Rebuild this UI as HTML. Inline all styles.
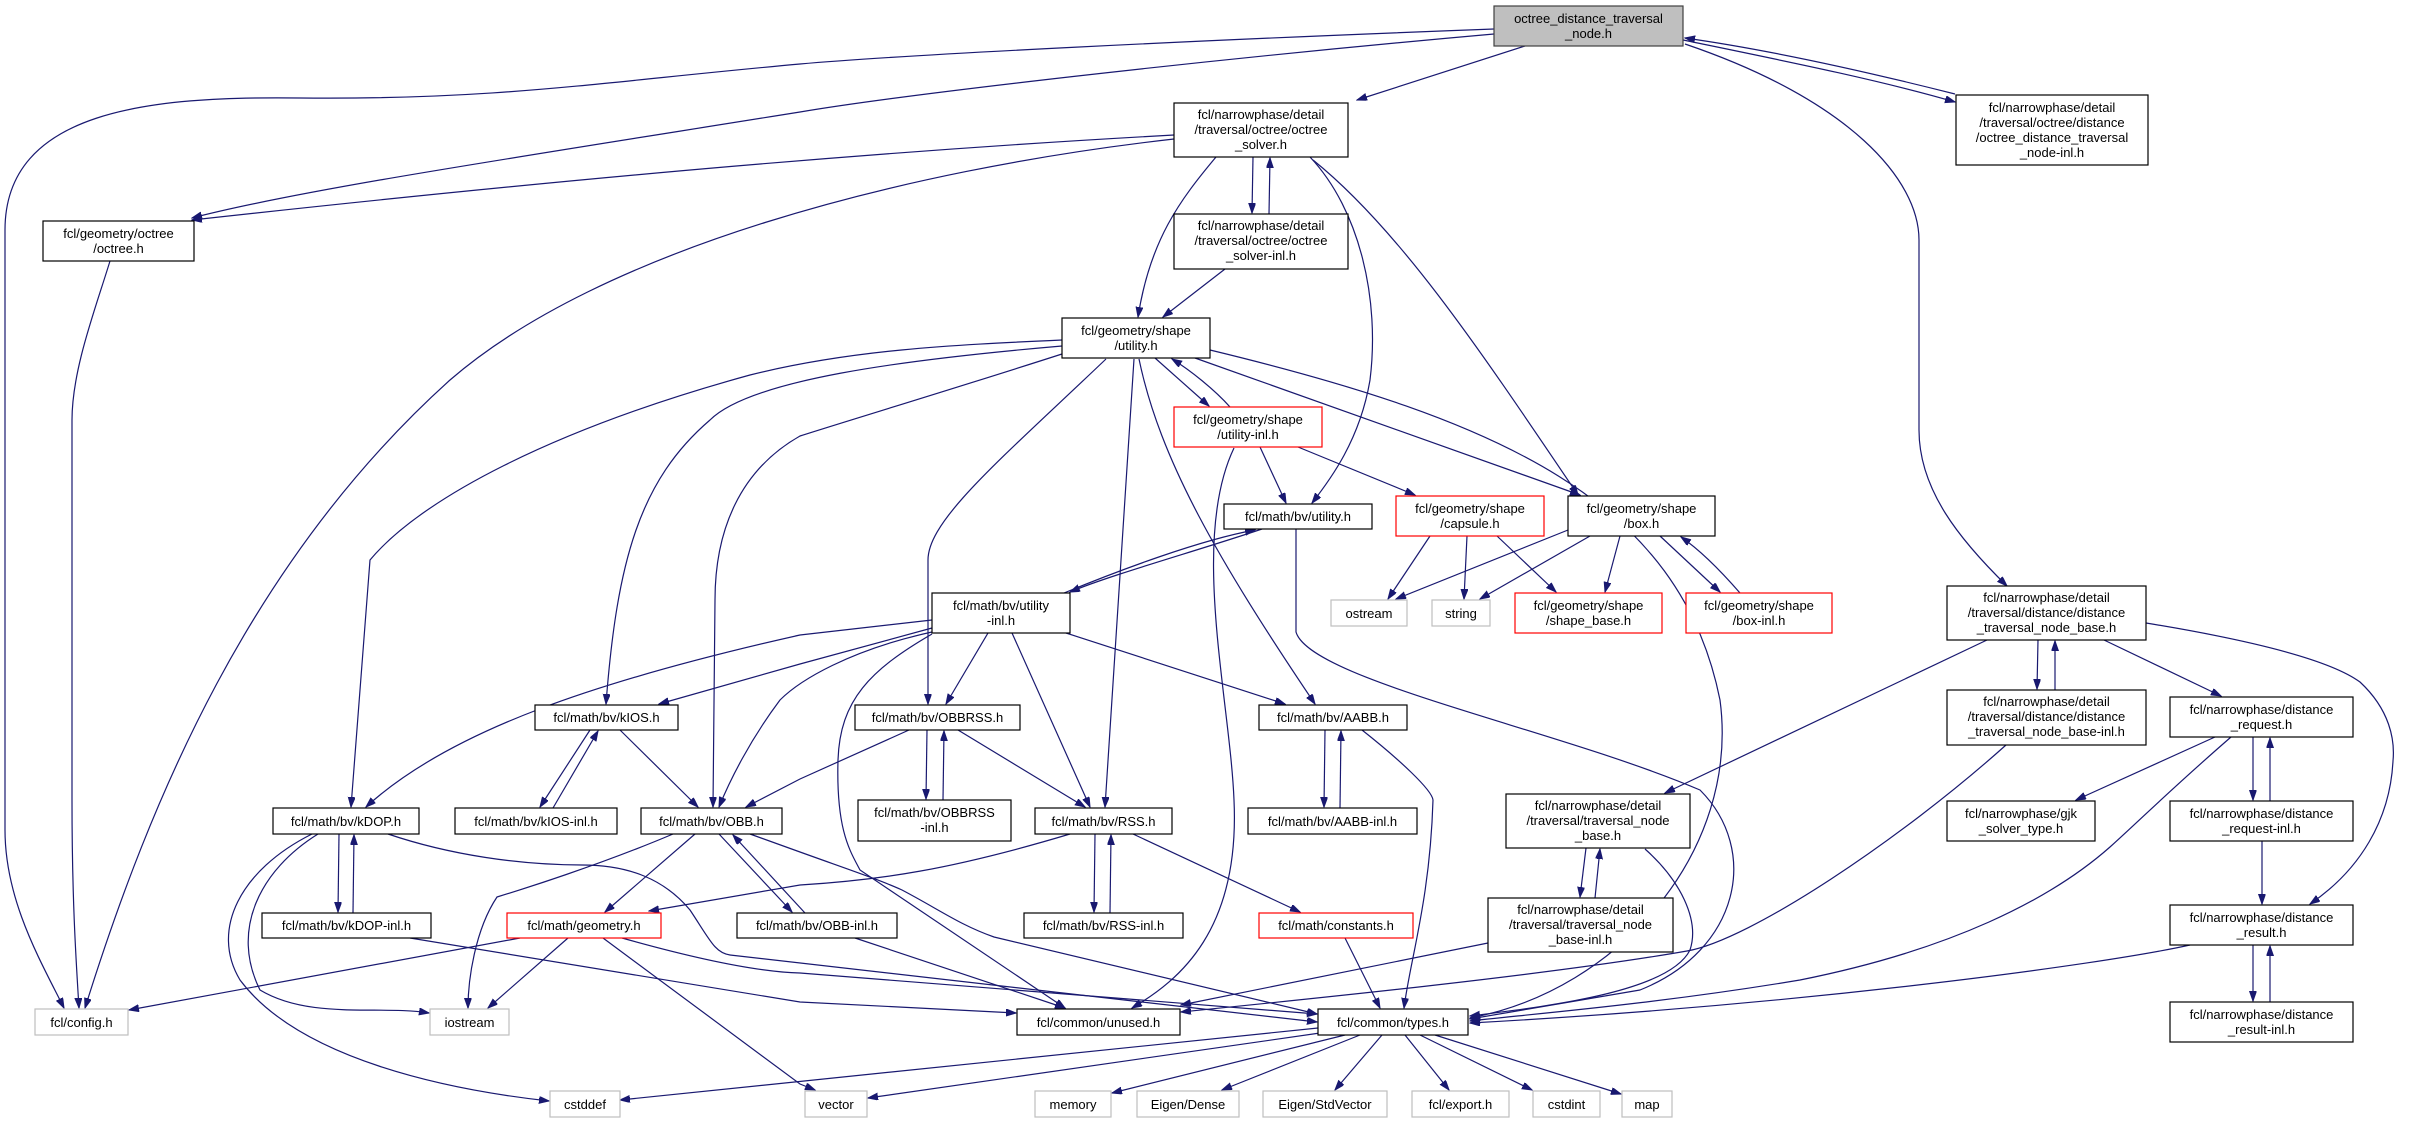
<!DOCTYPE html>
<html><head><meta charset="utf-8"><style>
html,body{margin:0;padding:0;background:#fff;}
svg{display:block;}
text{font-family:"Liberation Sans",sans-serif;font-size:13px;fill:#000;text-anchor:middle;}
.e{fill:none;stroke:#191970;stroke-width:1.2;marker-end:url(#a);}
.n{fill:#fff;stroke:#000;stroke-width:1.2;}
.g{fill:#fff;stroke:#bfbfbf;stroke-width:1.2;}
.r{fill:#fff;stroke:#ff0000;stroke-width:1.2;}
.m{fill:#bfbfbf;stroke:#404040;stroke-width:1.2;}
</style></head><body>
<svg width="2412" height="1123" viewBox="0 0 2412 1123" xmlns="http://www.w3.org/2000/svg">
<defs><marker id="a" markerUnits="userSpaceOnUse" markerWidth="11" markerHeight="8" refX="10" refY="3.5" orient="auto"><path d="M0,0 L10,3.5 L0,7 z" fill="#191970" stroke="#191970"/></marker></defs>

<!-- edges -->
<path class="e" d="M1494,29 C1200,40 900,55 800,64 C600,82 500,100 300,98 C150,96 5,110 5,230 L5,830 C5,900 40,960 64,1008"/>
<path class="e" d="M1494,34 C1200,60 900,95 800,112 C500,160 300,190 192,218"/>
<path class="e" d="M1525,46 L1357,100"/>
<path class="e" d="M1683,40 C1780,60 1880,80 1955,102"/>
<path class="e" d="M1955,94 C1860,70 1770,50 1685,38"/>
<path class="e" d="M1685,44 C1850,100 1919,180 1919,240 L1919,430 C1919,490 1960,540 2007,586"/>

<path class="e" d="M1174,135 C900,150 600,175 192,220"/>
<path class="e" d="M1174,139 C900,170 600,250 450,380 C250,560 150,800 85,1008"/>
<path class="e" d="M1253,157 L1252,213"/>
<path class="e" d="M1269,214 L1270,158"/>
<path class="e" d="M1216,157 C1180,200 1150,240 1138,317"/>
<path class="e" d="M1310,157 C1360,210 1380,300 1370,380 C1360,440 1330,480 1312,503"/>
<path class="e" d="M1313,160 C1400,230 1480,350 1578,495"/>
<path class="e" d="M1225,269 L1163,317"/>

<path class="e" d="M1155,358 L1209,406"/>
<path class="e" d="M1230,407 C1215,390 1190,370 1172,359"/>
<path class="e" d="M1195,358 L1580,495"/>
<path class="e" d="M1210,350 C1500,420 1680,500 1720,700 C1740,850 1620,990 1470,1018"/>
<path class="e" d="M1062,340 C950,345 850,350 750,375 C550,430 420,500 370,560 L351,807"/>
<path class="e" d="M1062,346 C900,360 750,380 710,420 C640,480 617,560 606,704"/>
<path class="e" d="M1062,354 C950,390 850,420 800,436 C740,470 715,530 715,600 L713,807"/>
<path class="e" d="M1106,359 C1000,460 928,520 928,560 L928,704"/>
<path class="e" d="M1134,359 L1121,560 L1105,807"/>
<path class="e" d="M1139,359 C1160,460 1218,560 1315,704"/>
<path class="e" d="M1260,447 L1286,503"/>
<path class="e" d="M1298,447 L1415,495"/>
<path class="e" d="M1234,448 C1190,540 1230,700 1234,800 C1240,930 1180,980 1132,1008"/>
<path class="e" d="M1296,529 L1296,632 C1310,680 1560,730 1700,790 C1760,850 1740,950 1640,990 L1470,1019"/>
<path class="e" d="M1064,593 C1120,570 1200,540 1255,530"/>
<path class="e" d="M1262,529 C1200,550 1110,575 1070,592"/>
<path class="e" d="M1430,536 L1388,599"/>
<path class="e" d="M1467,536 L1464,599"/>
<path class="e" d="M1497,536 L1556,592"/>
<path class="e" d="M1568,530 L1396,599"/>
<path class="e" d="M1590,536 L1480,599"/>
<path class="e" d="M1620,536 L1605,592"/>
<path class="e" d="M1660,536 L1720,592"/>
<path class="e" d="M1740,593 C1720,570 1700,550 1681,537"/>

<path class="e" d="M932,620 L800,635 C600,680 450,730 366,807"/>
<path class="e" d="M932,628 L800,664 L659,704"/>
<path class="e" d="M932,632 C850,650 800,680 780,700 C750,740 730,780 719,807"/>
<path class="e" d="M909,730 L800,779 L746,807"/>
<path class="e" d="M988,633 L946,704"/>
<path class="e" d="M1012,633 L1090,807"/>
<path class="e" d="M1066,633 L1285,704"/>
<path class="e" d="M932,634 C870,670 840,700 838,760 C836,830 850,851 860,870 L1065,1008"/>
<path class="e" d="M590,730 L540,807"/>
<path class="e" d="M553,808 L598,731"/>
<path class="e" d="M620,730 L698,807"/>
<path class="e" d="M339,834 L338,912"/>
<path class="e" d="M353,913 L354,835"/>
<path class="e" d="M312,834 C240,870 210,930 240,980 C300,1060 450,1090 549,1101"/>
<path class="e" d="M318,834 C260,870 230,930 260,990 C310,1020 380,1005 429,1013"/>
<path class="e" d="M388,834 C450,855 520,865 582,865 C630,865 665,880 690,910 C710,940 715,953 730,955 L1317,1022"/>
<path class="e" d="M410,938 L800,1002 L1016,1013"/>
<path class="e" d="M520,938 L129,1010"/>
<path class="e" d="M568,938 L488,1008"/>
<path class="e" d="M603,938 L800,1084 L815,1090"/>
<path class="e" d="M622,938 C700,960 760,972 800,973 L1317,1014"/>
<path class="e" d="M673,834 C600,865 520,890 497,897 C475,930 468,980 468,1008"/>
<path class="e" d="M695,834 L605,912"/>
<path class="e" d="M719,834 L792,912"/>
<path class="e" d="M805,913 L733,835"/>
<path class="e" d="M750,834 L800,852 C850,870 880,880 902,890 C940,910 960,925 994,937 L1317,1014"/>
<path class="e" d="M855,938 L1065,1008"/>
<path class="e" d="M1070,834 C950,870 880,880 800,885 L649,911"/>
<path class="e" d="M1095,834 L1094,912"/>
<path class="e" d="M1110,913 L1111,835"/>
<path class="e" d="M1133,834 L1300,912"/>
<path class="e" d="M927,730 L926,799"/>
<path class="e" d="M943,800 L944,731"/>
<path class="e" d="M958,730 L1085,807"/>
<path class="e" d="M1325,730 L1324,807"/>
<path class="e" d="M1340,808 L1341,731"/>
<path class="e" d="M1362,730 C1400,760 1432,790 1433,800 C1430,900 1410,960 1404,1008"/>
<path class="e" d="M1345,938 L1380,1008"/>

<path class="e" d="M1318,1028 L620,1100"/>
<path class="e" d="M1320,1033 L868,1098"/>
<path class="e" d="M1345,1035 L1112,1093"/>
<path class="e" d="M1360,1035 L1222,1090"/>
<path class="e" d="M1382,1035 L1335,1090"/>
<path class="e" d="M1405,1035 L1449,1090"/>
<path class="e" d="M1420,1035 L1532,1090"/>
<path class="e" d="M1435,1035 L1621,1094"/>

<path class="e" d="M1987,640 L1665,793"/>
<path class="e" d="M2038,640 L2037,689"/>
<path class="e" d="M2055,690 L2055,641"/>
<path class="e" d="M2104,640 L2221,696"/>
<path class="e" d="M2146,623 C2250,640 2330,660 2360,682 C2390,710 2395,740 2393,761 C2390,820 2360,870 2310,904"/>
<path class="e" d="M2006,745 C1900,840 1750,940 1687,951 C1550,975 1300,1000 1181,1012"/>
<path class="e" d="M2215,737 L2076,800"/>
<path class="e" d="M2253,737 L2253,800"/>
<path class="e" d="M2270,801 L2270,738"/>
<path class="e" d="M2231,737 C2170,790 2140,820 2110,847 C2050,900 1950,950 1800,980 C1650,1005 1520,1015 1470,1021"/>
<path class="e" d="M2262,841 L2262,904"/>
<path class="e" d="M2190,945 C2100,965 1800,1005 1470,1023"/>
<path class="e" d="M2253,945 L2253,1001"/>
<path class="e" d="M2270,1002 L2270,946"/>
<path class="e" d="M1586,848 L1580,897"/>
<path class="e" d="M1595,898 L1600,849"/>
<path class="e" d="M1645,849 C1680,880 1700,920 1690,950 C1670,990 1560,1005 1470,1016"/>
<path class="e" d="M1488,943 L1181,1005"/>
<path class="e" d="M110,261 C95,310 72,370 72,420 L72,800 C72,900 76,960 79,1008"/>

<!-- nodes -->
<rect class="m" x="1494" y="6" width="189" height="40"/><text x="1588.5" y="23">octree_distance_traversal</text><text x="1588.5" y="38">_node.h</text>
<rect class="n" x="1956" y="95" width="192" height="70"/><text x="2052" y="112">fcl/narrowphase/detail</text><text x="2052" y="127">/traversal/octree/distance</text><text x="2052" y="142">/octree_distance_traversal</text><text x="2052" y="157">_node-inl.h</text>
<rect class="n" x="1174" y="103" width="174" height="54"/><text x="1261" y="119">fcl/narrowphase/detail</text><text x="1261" y="134">/traversal/octree/octree</text><text x="1261" y="149">_solver.h</text>
<rect class="n" x="1174" y="214" width="174" height="55"/><text x="1261" y="230">fcl/narrowphase/detail</text><text x="1261" y="245">/traversal/octree/octree</text><text x="1261" y="260">_solver-inl.h</text>
<rect class="n" x="43" y="221" width="151" height="40"/><text x="118.5" y="238">fcl/geometry/octree</text><text x="118.5" y="253">/octree.h</text>
<rect class="n" x="1062" y="318" width="148" height="40"/><text x="1136" y="335">fcl/geometry/shape</text><text x="1136" y="350">/utility.h</text>
<rect class="r" x="1174" y="407" width="148" height="40"/><text x="1248" y="424">fcl/geometry/shape</text><text x="1248" y="439">/utility-inl.h</text>
<rect class="n" x="1224" y="504" width="148" height="25"/><text x="1298" y="521">fcl/math/bv/utility.h</text>
<rect class="r" x="1396" y="496" width="148" height="40"/><text x="1470" y="513">fcl/geometry/shape</text><text x="1470" y="528">/capsule.h</text>
<rect class="n" x="1568" y="496" width="147" height="40"/><text x="1641.5" y="513">fcl/geometry/shape</text><text x="1641.5" y="528">/box.h</text>
<rect class="g" x="1331" y="600" width="76" height="26"/><text x="1369" y="618">ostream</text>
<rect class="g" x="1432" y="600" width="58" height="26"/><text x="1461" y="618">string</text>
<rect class="r" x="1515" y="593" width="147" height="40"/><text x="1588.5" y="610">fcl/geometry/shape</text><text x="1588.5" y="625">/shape_base.h</text>
<rect class="r" x="1686" y="593" width="146" height="40"/><text x="1759" y="610">fcl/geometry/shape</text><text x="1759" y="625">/box-inl.h</text>
<rect class="n" x="932" y="593" width="138" height="40"/><text x="1001" y="610">fcl/math/bv/utility</text><text x="1001" y="625">-inl.h</text>
<rect class="n" x="535" y="705" width="143" height="25"/><text x="606.5" y="722">fcl/math/bv/kIOS.h</text>
<rect class="n" x="855" y="705" width="165" height="25"/><text x="937.5" y="722">fcl/math/bv/OBBRSS.h</text>
<rect class="n" x="1259" y="705" width="148" height="25"/><text x="1333" y="722">fcl/math/bv/AABB.h</text>
<rect class="n" x="273" y="808" width="146" height="26"/><text x="346" y="826">fcl/math/bv/kDOP.h</text>
<rect class="n" x="455" y="808" width="162" height="26"/><text x="536" y="826">fcl/math/bv/kIOS-inl.h</text>
<rect class="n" x="641" y="808" width="141" height="26"/><text x="711.5" y="826">fcl/math/bv/OBB.h</text>
<rect class="n" x="858" y="800" width="153" height="41"/><text x="934.5" y="817">fcl/math/bv/OBBRSS</text><text x="934.5" y="832">-inl.h</text>
<rect class="n" x="1035" y="808" width="137" height="26"/><text x="1103.5" y="826">fcl/math/bv/RSS.h</text>
<rect class="n" x="1248" y="808" width="169" height="26"/><text x="1332.5" y="826">fcl/math/bv/AABB-inl.h</text>
<rect class="n" x="262" y="913" width="169" height="25"/><text x="346.5" y="930">fcl/math/bv/kDOP-inl.h</text>
<rect class="r" x="507" y="913" width="154" height="25"/><text x="584" y="930">fcl/math/geometry.h</text>
<rect class="n" x="737" y="913" width="160" height="25"/><text x="817" y="930">fcl/math/bv/OBB-inl.h</text>
<rect class="n" x="1024" y="913" width="159" height="25"/><text x="1103.5" y="930">fcl/math/bv/RSS-inl.h</text>
<rect class="r" x="1259" y="913" width="154" height="25"/><text x="1336" y="930">fcl/math/constants.h</text>
<rect class="g" x="35" y="1009" width="93" height="26"/><text x="81.5" y="1027">fcl/config.h</text>
<rect class="g" x="430" y="1009" width="79" height="26"/><text x="469.5" y="1027">iostream</text>
<rect class="n" x="1017" y="1009" width="163" height="26"/><text x="1098.5" y="1027">fcl/common/unused.h</text>
<rect class="n" x="1318" y="1009" width="150" height="26"/><text x="1393" y="1027">fcl/common/types.h</text>
<rect class="g" x="550" y="1091" width="70" height="26"/><text x="585" y="1109">cstddef</text>
<rect class="g" x="805" y="1091" width="62" height="26"/><text x="836" y="1109">vector</text>
<rect class="g" x="1035" y="1091" width="76" height="26"/><text x="1073" y="1109">memory</text>
<rect class="g" x="1137" y="1091" width="102" height="26"/><text x="1188" y="1109">Eigen/Dense</text>
<rect class="g" x="1263" y="1091" width="124" height="26"/><text x="1325" y="1109">Eigen/StdVector</text>
<rect class="g" x="1412" y="1091" width="97" height="26"/><text x="1460.5" y="1109">fcl/export.h</text>
<rect class="g" x="1533" y="1091" width="67" height="26"/><text x="1566.5" y="1109">cstdint</text>
<rect class="g" x="1622" y="1091" width="50" height="26"/><text x="1647" y="1109">map</text>
<rect class="n" x="1506" y="794" width="184" height="54"/><text x="1598" y="810">fcl/narrowphase/detail</text><text x="1598" y="825">/traversal/traversal_node</text><text x="1598" y="840">_base.h</text>
<rect class="n" x="1488" y="898" width="185" height="54"/><text x="1580.5" y="914">fcl/narrowphase/detail</text><text x="1580.5" y="929">/traversal/traversal_node</text><text x="1580.5" y="944">_base-inl.h</text>
<rect class="n" x="1947" y="586" width="199" height="54"/><text x="2046.5" y="602">fcl/narrowphase/detail</text><text x="2046.5" y="617">/traversal/distance/distance</text><text x="2046.5" y="632">_traversal_node_base.h</text>
<rect class="n" x="1947" y="690" width="199" height="55"/><text x="2046.5" y="706">fcl/narrowphase/detail</text><text x="2046.5" y="721">/traversal/distance/distance</text><text x="2046.5" y="736">_traversal_node_base-inl.h</text>
<rect class="n" x="2170" y="697" width="183" height="40"/><text x="2261.5" y="714">fcl/narrowphase/distance</text><text x="2261.5" y="729">_request.h</text>
<rect class="n" x="1947" y="801" width="148" height="40"/><text x="2021" y="818">fcl/narrowphase/gjk</text><text x="2021" y="833">_solver_type.h</text>
<rect class="n" x="2170" y="801" width="183" height="40"/><text x="2261.5" y="818">fcl/narrowphase/distance</text><text x="2261.5" y="833">_request-inl.h</text>
<rect class="n" x="2170" y="905" width="183" height="40"/><text x="2261.5" y="922">fcl/narrowphase/distance</text><text x="2261.5" y="937">_result.h</text>
<rect class="n" x="2170" y="1002" width="183" height="40"/><text x="2261.5" y="1019">fcl/narrowphase/distance</text><text x="2261.5" y="1034">_result-inl.h</text>
</svg>
</body></html>
